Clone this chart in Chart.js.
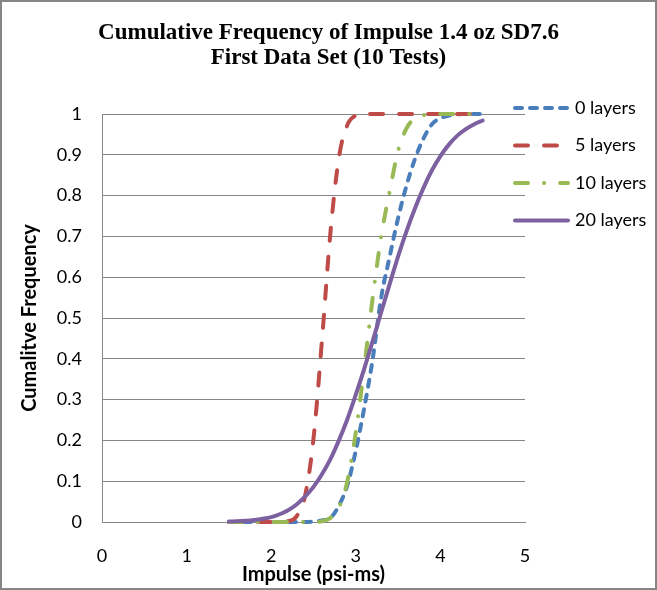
<!DOCTYPE html>
<html><head><meta charset="utf-8">
<script src="https://cdn.jsdelivr.net/npm/chart.js@4/dist/chart.umd.min.js"></script>
<style>
html,body{margin:0;padding:0;background:#fff;}
#wrap{position:relative;width:657px;height:590px;}
#c{position:absolute;left:0;top:0;}
#frame{position:absolute;left:0;top:0;width:657px;height:590px;box-sizing:border-box;border:2px solid #868686;pointer-events:none;}
</style></head><body>
<div id="wrap"><canvas id="c" width="657" height="590"></canvas><div id="frame"></div></div>
<script>
// Impulse values (psi-ms)
const impulse = [1.5,1.6,1.7,1.8,1.9,2.0,2.1,2.2,2.3,2.4,2.5,2.6,2.7,2.8,2.9,3.0,3.1,3.2,3.3,3.4,3.5,3.6,3.7,3.8,3.9,4.0,4.1,4.2,4.3,4.4,4.5];
// Cumulative frequency per series
const layers0  = [0,0,0,0,0,0,0,0,0,0,0.001,0.004,0.01,0.04,0.09,0.175,0.28,0.40,0.55,0.65,0.745,0.825,0.89,0.94,0.975,0.99,0.996,0.999,1,1,1];
const layers5  = [0,0,0,0,0,0,0.0005,0.002,0.014,0.064,0.204,0.445,0.709,0.893,0.973,0.996,1,1,1,1,1,1,1,1,1,1,1,1,1,1,1];
const layers10 = [0,0,0,0,0,0,0,0,0,0,0,0.002,0.01,0.035,0.10,0.22,0.38,0.55,0.70,0.81,0.91,0.965,0.99,0.997,1,1,1,1,1,1,1];
const layers20 = [0.001,0.0016,0.003,0.005,0.008,0.012,0.019,0.029,0.043,0.062,0.086,0.117,0.154,0.200,0.252,0.312,0.376,0.444,0.514,0.583,0.651,0.713,0.769,0.819,0.862,0.897,0.925,0.947,0.963,0.975,0.984];
const seriesLabels = ['0 layers','5 layers','10 layers','20 layers'];
const xTicks = [0,1,2,3,4,5];
const yTicks = [0,0.1,0.2,0.3,0.4,0.5,0.6,0.7,0.8,0.9,1];
const titleLines = ['Cumulative Frequency of Impulse 1.4 oz SD7.6','First Data Set (10 Tests)'];
const xTitle = 'Impulse (psi-ms)';
const yTitle = 'Cumalitve Frequency';

const GRID = '#868686';
const toPts = ys => impulse.map((x,i)=>({x:x,y:ys[i]}));
const styles = [
  {c:'#4A7EBB', dash:[7,8]},
  {c:'#BE4B48', dash:[13,16]},
  {c:'#98B954', dash:[13,16,0.1,16]},
  {c:'#7D60A0', dash:[]}
];
const allSeries = [layers0, layers5, layers10, layers20];
const datasets = allSeries.map((ys,i)=>({
  label: seriesLabels[i],
  data: toPts(ys),
  borderColor: styles[i].c,
  backgroundColor: styles[i].c,
  borderWidth: 4,
  borderDash: styles[i].dash,
  borderCapStyle: 'round',
  pointRadius: 0,
  showLine: true,
  cubicInterpolationMode: 'monotone',
  tension: 0.4,
  clip: false,
  order: 3 - i
}));

const sideLegend = {
  id: 'sideLegend',
  afterDraw(chart) {
    const ctx = chart.ctx;
    chart.data.datasets.forEach((ds, i) => {
      const y = 108 + i * 37.5;
      ctx.save();
      ctx.strokeStyle = ds.borderColor;
      ctx.lineWidth = ds.borderWidth;
      ctx.lineCap = 'round';
      ctx.setLineDash(ds.borderDash || []);
      ctx.beginPath(); ctx.moveTo(515, y); ctx.lineTo(568, y); ctx.stroke();
      ctx.setLineDash([]);
      ctx.fillStyle = '#000';
      ctx.font = '18px Lato';
      ctx.textBaseline = 'middle';
      ctx.textAlign = 'left';
      ctx.fillText(ds.label, 575, y);
      ctx.restore();
    });
  }
};

new Chart(document.getElementById('c'), {
  type: 'scatter',
  data: { datasets: datasets },
  options: {
    responsive: false,
    animation: false,
    devicePixelRatio: 1,
    layout: { padding: 0 },
    plugins: {
      legend: { display: false },
      tooltip: { enabled: false },
      title: {
        display: true,
        text: titleLines,
        color: '#000',
        font: { family: 'Liberation Serif', size: 23, weight: 'bold', lineHeight: 1.087 },
        padding: { top: 21, bottom: 43 }
      }
    },
    scales: {
      x: {
        type: 'linear', min: 0, max: 5,
        afterBuildTicks: s => { s.ticks = xTicks.map(v => ({value: v})); },
        afterFit: s => { s.height = 68; },
        grid: { display: false, drawTicks: false },
        border: { display: true, color: GRID, width: 1 },
        ticks: { color: '#000', font: { family: 'Lato', size: 18 }, padding: 23, maxRotation: 0 },
        title: { display: true, text: xTitle, color: '#000', font: { family: 'Lato', size: 20, weight: 'bold' }, padding: { top: 0, bottom: 3 } }
      },
      y: {
        type: 'linear', min: 0, max: 1,
        afterBuildTicks: s => { s.ticks = yTicks.map(v => ({value: v})); },
        afterFit: s => { s.width = 102; },
        grid: { color: GRID, lineWidth: 1, drawTicks: false },
        border: { display: true, color: GRID, width: 1 },
        ticks: { color: '#000', font: { family: 'Lato', size: 18 }, padding: 20,
          callback: v => String(Math.round(v * 10) / 10) },
        title: { display: true, text: yTitle, color: '#000', font: { family: 'Lato', size: 20, weight: 'bold' }, padding: { top: 18, bottom: 0 } }
      },
      yRight: {
        type: 'linear', position: 'right', min: 0, max: 1, display: true,
        afterFit: s => { s.width = 132; },
        grid: { display: false, drawTicks: false },
        border: { display: false },
        ticks: { display: false }
      }
    }
  },
  plugins: [sideLegend]
});
</script>
</body></html>
